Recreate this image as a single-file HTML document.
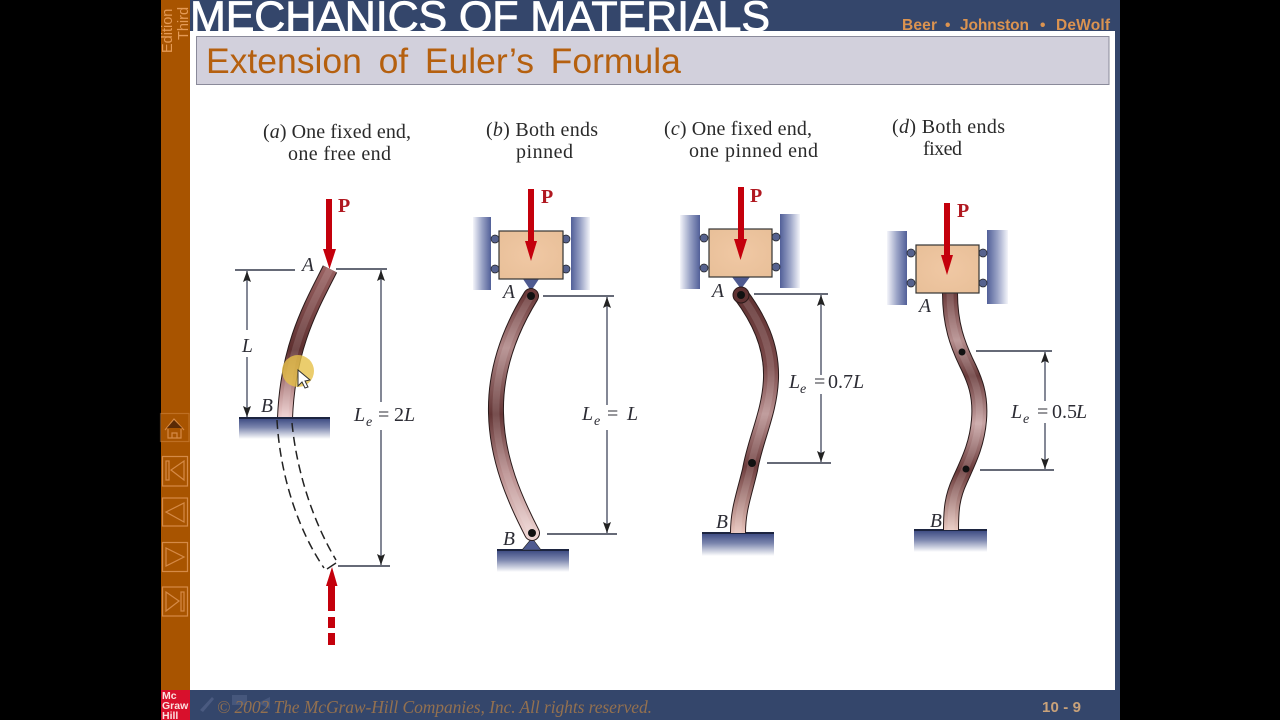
<!DOCTYPE html>
<html><head><meta charset="utf-8"><title>Extension of Euler's Formula</title>
<style>html,body{margin:0;padding:0;background:#000;width:1280px;height:720px;overflow:hidden}svg{display:block}
.cap{font:20px "Liberation Serif",serif;fill:#2a2a2a}
.lab{font:italic 19.5px "Liberation Serif",serif;fill:#2c2c34}
.eq{font:20px "Liberation Serif",serif;fill:#2c2c34}
.sub{font:italic 14px "Liberation Serif",serif;fill:#2c2c34}
.p{font:bold 20px "Liberation Serif",serif;fill:#B01820}
.dim{stroke:#4e5468;stroke-width:1.4;fill:none}
.dimk{stroke:#33384a;stroke-width:1.4;fill:none}
.au{font:bold 15.5px "Liberation Sans",sans-serif;fill:#DB9350}
.hl{fill:none;stroke:#fff;stroke-opacity:.13;stroke-width:7}
</style></head><body>
<svg width="1280" height="720" viewBox="0 0 1280 720" xmlns="http://www.w3.org/2000/svg">
<defs>
<marker id="ah" markerUnits="userSpaceOnUse" markerWidth="12" markerHeight="12" refX="11" refY="4" orient="auto"><path d="M0,0L11,4L0,8L2,4Z" fill="#222"/></marker>
<linearGradient id="gr" x1="0" y1="0" x2="0" y2="1"><stop offset="0" stop-color="#3a4880"/><stop offset=".45" stop-color="#7c86ae"/><stop offset="1" stop-color="#fff"/></linearGradient>
<linearGradient id="wl" x1="0" y1="0" x2="1" y2="0"><stop offset="0" stop-color="#f4f5fa"/><stop offset=".5" stop-color="#9aa3c6"/><stop offset="1" stop-color="#515f98"/></linearGradient>
<linearGradient id="wr" x1="0" y1="0" x2="1" y2="0"><stop offset="0" stop-color="#515f98"/><stop offset=".5" stop-color="#9aa3c6"/><stop offset="1" stop-color="#f4f5fa"/></linearGradient>
<linearGradient id="ba" gradientUnits="userSpaceOnUse" x1="0" y1="266" x2="0" y2="418"><stop offset="0" stop-color="#9a6262"/><stop offset=".55" stop-color="#5e3030"/><stop offset=".75" stop-color="#a87878"/><stop offset="1" stop-color="#efcfcf"/></linearGradient>
<linearGradient id="bb" gradientUnits="userSpaceOnUse" x1="0" y1="296" x2="0" y2="533"><stop offset="0" stop-color="#6c3a3a"/><stop offset=".22" stop-color="#b08888"/><stop offset=".5" stop-color="#643636"/><stop offset=".75" stop-color="#b98e8e"/><stop offset="1" stop-color="#ecd2d0"/></linearGradient>
<linearGradient id="bc" gradientUnits="userSpaceOnUse" x1="0" y1="295" x2="0" y2="533"><stop offset="0" stop-color="#603232"/><stop offset=".3" stop-color="#7b4a4a"/><stop offset=".5" stop-color="#b89090"/><stop offset=".72" stop-color="#6e3e3e"/><stop offset="1" stop-color="#e8c4bc"/></linearGradient>
<linearGradient id="bd" gradientUnits="userSpaceOnUse" x1="0" y1="293" x2="0" y2="530"><stop offset="0" stop-color="#6c3c3c"/><stop offset=".2" stop-color="#b48c8c"/><stop offset=".35" stop-color="#6a3c3c"/><stop offset=".55" stop-color="#c8a4a4"/><stop offset=".75" stop-color="#6a3a3a"/><stop offset="1" stop-color="#e8c8c0"/></linearGradient>
<radialGradient id="bk" cx=".5" cy=".5" r=".7"><stop offset="0" stop-color="#f0c8a4"/><stop offset="1" stop-color="#e8bf98"/></radialGradient>
</defs>
<rect width="1280" height="720" fill="#000"/>
<rect x="161" y="0" width="29" height="720" fill="#A85400"/>
<rect x="190" y="0" width="930" height="720" fill="#34466B"/>
<rect x="190" y="31" width="925" height="659" fill="#fff"/>

<text transform="translate(188,40) rotate(-90)" font-family="Liberation Sans" font-size="14.5" fill="#E59A55">Third</text>
<text transform="translate(172,53) rotate(-90)" font-family="Liberation Sans" font-size="14.5" fill="#E59A55">Edition</text>
<clipPath id="hc"><rect x="190" y="0" width="925" height="31"/></clipPath>
<text x="190" y="31" clip-path="url(#hc)" font-family="Liberation Sans" font-size="43" fill="#fff" stroke="#fff" stroke-width=".8" textLength="580">MECHANICS OF MATERIALS</text>
<text class="au" x="902" y="30" textLength="35">Beer</text><text class="au" x="945" y="30">•</text>
<text class="au" x="960" y="30" textLength="69">Johnston</text><text class="au" x="1040" y="30">•</text>
<text class="au" x="1056" y="30" textLength="54">DeWolf</text>
<rect x="196.500" y="36.500" width="912.500" height="48" fill="#D2D0DC" stroke="#8a8a9a" stroke-width="1"/>
<text x="206" y="73" font-family="Liberation Sans" font-size="35.5" word-spacing="6.800" fill="#B5600F">Extension of Euler’s Formula</text>

<!-- sidebar nav -->
<g fill="none" stroke="#DE9454" stroke-width="1.2" opacity=".85">
<rect x="160.500" y="413.500" width="28.500" height="28" stroke-opacity=".5"/>
<path d="M165,430L174,419L184,430M168,429V438H181V429M172,438V433H177V438"/>
<rect x="162.500" y="456.500" width="25" height="29.500"/><rect x="166" y="461" width="3" height="19"/><path d="M184,461V480L171,470Z"/>
<rect x="162.500" y="498" width="25" height="28"/><path d="M184,503V522L166,512Z"/>
<rect x="162.500" y="542.500" width="25" height="29"/><path d="M166,548V566L184,557Z"/>
<rect x="162.500" y="587" width="25" height="29"/><path d="M166,592V611L179,601Z"/><rect x="181" y="592" width="3" height="19"/>
</g>
<path d="M167,428L174,420L182,428Z" fill="#5a2a05"/>

<!-- logo & footer -->
<rect x="161" y="690" width="29" height="30" fill="#D8102C"/>
<g font-family="Liberation Sans" font-weight="bold" font-size="10.500" fill="#fbe0e0"><text x="162" y="699">Mc</text><text x="162" y="709">Graw</text><text x="162" y="719">Hill</text></g>
<path d="M200,710L212,697L214,699L203,712Z" fill="#4a5a80"/>
<rect x="232" y="695" width="15" height="10" fill="#46577c"/><path d="M258,703L270,697V709Z" fill="#46577c"/>
<text x="217" y="713" font-family="Liberation Serif" font-style="italic" font-size="17.500" fill="#93704F" textLength="435">© 2002 The McGraw-Hill Companies, Inc. All rights reserved.</text>
<text x="1042" y="712" font-family="Liberation Sans" font-weight="bold" font-size="15" fill="#C9A27A" textLength="39">10 - 9</text>

<!-- captions -->
<text class="cap" x="263" y="138" textLength="148">(<tspan font-style="italic">a</tspan>) One fixed end,</text>
<text class="cap" x="288" y="160" textLength="103">one free end</text>
<text class="cap" x="486" y="136" textLength="112">(<tspan font-style="italic">b</tspan>) Both ends</text>
<text class="cap" x="516" y="158" textLength="57">pinned</text>
<text class="cap" x="664" y="135" textLength="148">(<tspan font-style="italic">c</tspan>) One fixed end,</text>
<text class="cap" x="689" y="157" textLength="129">one pinned end</text>
<text class="cap" x="892" y="133" textLength="113">(<tspan font-style="italic">d</tspan>) Both ends</text>
<text class="cap" x="923" y="155" textLength="39">fixed</text>

<!-- (a) -->
<rect x="239" y="418" width="91" height="21" fill="url(#gr)"/>
<path d="M330,269C312,305 288,345 285,418" fill="none" stroke="#2a1a1a" stroke-width="16"/>
<path d="M330,269C312,305 288,345 285,418" fill="none" stroke="url(#ba)" stroke-width="14"/>
<path class="hl" d="M330,269C312,305 288,345 285,418"/>
<line x1="239" y1="418" x2="330" y2="418" stroke="#1c2440" stroke-width="2"/>
<g fill="none" stroke="#222" stroke-width="1.500" stroke-dasharray="9 5">
<path d="M277,420C280,475 298,530 324,568"/><path d="M292,423C297,475 315,525 336,560"/></g>
<path d="M327,569L336,563" stroke="#222" stroke-width="1.400"/>
<path class="dimk" d="M235,270H295M336,269H387M338,566H390"/>
<path class="dim" d="M247,330V271" marker-end="url(#ah)"/><path class="dim" d="M247,357V417" marker-end="url(#ah)"/>
<path class="dim" d="M381,402V270" marker-end="url(#ah)"/><path class="dim" d="M381,430V565" marker-end="url(#ah)"/>
<rect x="326" y="199" width="6" height="50" fill="#C4000C"/><path d="M323,249H336L329.500,269Z" fill="#C4000C"/>
<path d="M332,567L337.500,586H326Z" fill="#C4000C"/>
<g fill="#C4000C"><rect x="328" y="586" width="7" height="25"/><rect x="328" y="617" width="7" height="11"/><rect x="328" y="633" width="7" height="12"/></g>
<text class="p" x="338" y="212">P</text>
<text class="lab" x="302" y="271">A</text><text class="lab" x="261" y="412">B</text><text class="lab" x="242" y="352">L</text>
<text class="eq" y="421"><tspan x="354" font-style="italic">L</tspan><tspan x="378">=</tspan><tspan x="394">2</tspan><tspan x="404" font-style="italic">L</tspan></text><text class="sub" x="366" y="426">e</text>

<!-- (b) -->
<rect x="473" y="217" width="18" height="73" fill="url(#wl)"/><rect x="571" y="217" width="19" height="73" fill="url(#wr)"/>
<rect x="497" y="550" width="72" height="22" fill="url(#gr)"/><line x1="497" y1="550" x2="569" y2="550" stroke="#1c2440" stroke-width="2"/>
<path d="M522,550L541,550L532,538Z" fill="#4e5a90" stroke="#222" stroke-width=".6"/>
<path d="M523,279H539L531,291Z" fill="#4e5a90"/>
<path d="M531,296C510,330 495,370 496,413C497,460 515,500 532,533" fill="none" stroke="#2a1a1a" stroke-width="16" stroke-linecap="round"/>
<path d="M531,296C510,330 495,370 496,413C497,460 515,500 532,533" fill="none" stroke="url(#bb)" stroke-width="14" stroke-linecap="round"/>
<path class="hl" d="M531,296C510,330 495,370 496,413C497,460 515,500 532,533"/>
<circle cx="531" cy="296" r="4" fill="#111"/><circle cx="532" cy="533" r="4" fill="#111"/>
<g fill="#56628e" stroke="#222" stroke-width=".7"><circle cx="495" cy="239" r="4"/><circle cx="495" cy="269" r="4"/><circle cx="566" cy="239" r="4"/><circle cx="566" cy="269" r="4"/></g>
<rect x="499" y="231" width="64" height="48" fill="url(#bk)" stroke="#333" stroke-width="1.200"/>
<rect x="528" y="189" width="6" height="52" fill="#C4000C"/><path d="M525,241H537L531,261Z" fill="#C4000C"/>
<text class="p" x="541" y="203">P</text>
<path class="dimk" d="M543,296H614M547,534H617"/>
<path class="dim" d="M607,405V297" marker-end="url(#ah)"/><path class="dim" d="M607,430V533" marker-end="url(#ah)"/>
<text class="lab" x="503" y="298">A</text><text class="lab" x="503" y="545">B</text>
<text class="eq" y="420"><tspan x="582" font-style="italic">L</tspan><tspan x="607">=</tspan><tspan x="627" font-style="italic">L</tspan></text><text class="sub" x="594" y="425">e</text>

<!-- (c) -->
<rect x="680" y="215" width="20" height="74" fill="url(#wl)"/><rect x="780" y="214" width="20" height="74" fill="url(#wr)"/>
<rect x="702" y="533" width="72" height="23" fill="url(#gr)"/><line x1="702" y1="533" x2="774" y2="533" stroke="#1c2440" stroke-width="2"/>
<path d="M732,277H750L741,289Z" fill="#4e5a90"/>
<path d="M741,295C758,318 772,345 771,378C770,412 755,440 750,470C744,495 738,510 738,533" fill="none" stroke="#2a1a1a" stroke-width="16"/>
<path d="M741,295C758,318 772,345 771,378C770,412 755,440 750,470C744,495 738,510 738,533" fill="none" stroke="url(#bc)" stroke-width="14"/>
<path class="hl" d="M741,295C758,318 772,345 771,378C770,412 755,440 750,470C744,495 738,510 738,533"/>
<circle cx="741" cy="295" r="8" fill="#603232" stroke="#2a1a1a"/>
<circle cx="741" cy="295" r="4" fill="#111"/><circle cx="752" cy="463" r="4" fill="#111"/>
<g fill="#56628e" stroke="#222" stroke-width=".7"><circle cx="704" cy="238" r="4"/><circle cx="704" cy="268" r="4"/><circle cx="776" cy="237" r="4"/><circle cx="776" cy="267" r="4"/></g>
<rect x="709" y="229" width="63" height="48" fill="url(#bk)" stroke="#333" stroke-width="1.200"/>
<rect x="738" y="187" width="6" height="52" fill="#C4000C"/><path d="M734,239H747L740.500,260Z" fill="#C4000C"/>
<text class="p" x="750" y="202">P</text>
<path class="dimk" d="M754,294H828M767,463H831"/>
<path class="dim" d="M821,375V295" marker-end="url(#ah)"/><path class="dim" d="M821,394V462" marker-end="url(#ah)"/>
<text class="lab" x="712" y="297">A</text><text class="lab" x="716" y="528">B</text>
<text class="eq" y="388"><tspan x="789" font-style="italic">L</tspan><tspan x="814">=</tspan><tspan x="828">0.7</tspan><tspan x="853" font-style="italic">L</tspan></text><text class="sub" x="800" y="393">e</text>

<!-- (d) -->
<rect x="887" y="231" width="20" height="74" fill="url(#wl)"/><rect x="987" y="230" width="21" height="74" fill="url(#wr)"/>
<rect x="914" y="530" width="73" height="22" fill="url(#gr)"/><line x1="914" y1="530" x2="987" y2="530" stroke="#1c2440" stroke-width="2"/>
<path d="M950,293C950,325 958,345 966,362C975,380 981,395 979,420C977,445 968,462 960,480C952,497 951,510 951,530" fill="none" stroke="#2a1a1a" stroke-width="16"/>
<path d="M950,293C950,325 958,345 966,362C975,380 981,395 979,420C977,445 968,462 960,480C952,497 951,510 951,530" fill="none" stroke="url(#bd)" stroke-width="14"/>
<path class="hl" d="M950,293C950,325 958,345 966,362C975,380 981,395 979,420C977,445 968,462 960,480C952,497 951,510 951,530"/>
<circle cx="962" cy="352" r="3.500" fill="#111"/><circle cx="966" cy="469" r="3.500" fill="#111"/>
<g fill="#56628e" stroke="#222" stroke-width=".7"><circle cx="911" cy="253" r="4"/><circle cx="911" cy="283" r="4"/><circle cx="983" cy="253" r="4"/><circle cx="983" cy="283" r="4"/></g>
<rect x="916" y="245" width="63" height="48" fill="url(#bk)" stroke="#333" stroke-width="1.200"/>
<rect x="944" y="203" width="6" height="52" fill="#C4000C"/><path d="M941,255H953L947,275Z" fill="#C4000C"/>
<text class="p" x="957" y="217">P</text>
<path class="dimk" d="M976,351H1052M980,470H1054"/>
<path class="dim" d="M1045,401V352" marker-end="url(#ah)"/><path class="dim" d="M1045,423V469" marker-end="url(#ah)"/>
<text class="lab" x="919" y="312">A</text><text class="lab" x="930" y="527">B</text>
<text class="eq" y="418"><tspan x="1011" font-style="italic">L</tspan><tspan x="1037">=</tspan><tspan x="1052">0.5</tspan><tspan x="1076" font-style="italic">L</tspan></text><text class="sub" x="1023" y="423">e</text>

<!-- cursor highlight -->
<circle cx="298" cy="371" r="16" fill="#E6C048" opacity=".8"/>
<path d="M298,370V386L302,382L305,388L308,387L305,381L310,380Z" fill="#fff" stroke="#333" stroke-width="1"/>
</svg>
</body></html>
